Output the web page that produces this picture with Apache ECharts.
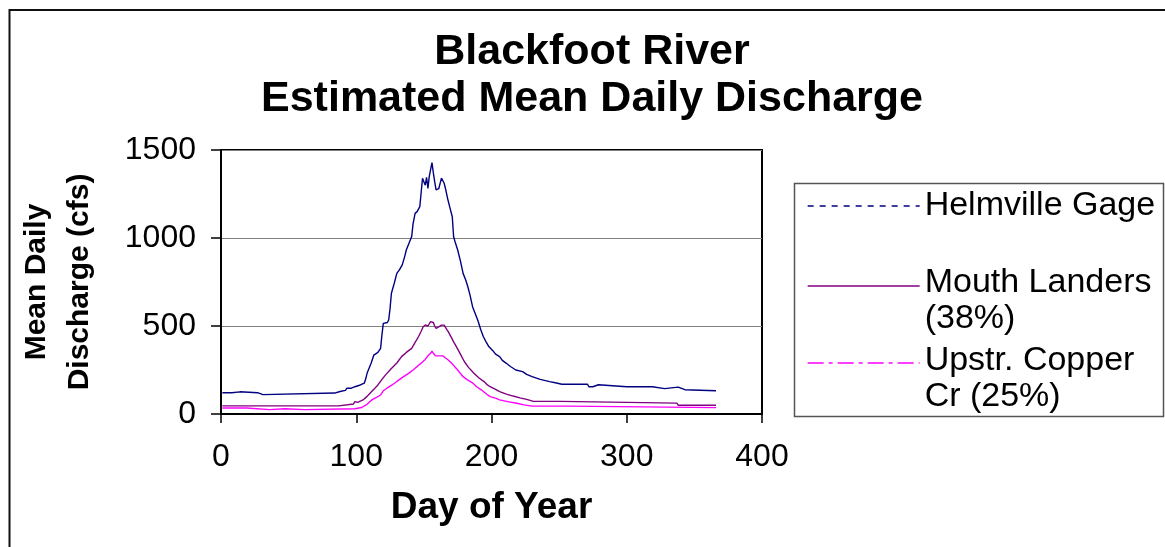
<!DOCTYPE html>
<html>
<head>
<meta charset="utf-8">
<style>
  html, body { margin: 0; padding: 0; background: #fff; }
  #chart { width: 1165px; height: 547px; }
</style>
<script src="https://cdn.jsdelivr.net/npm/echarts@6/dist/echarts.min.js"></script>
</head>
<body>
<div id="chart"></div>
<script>
// Blackfoot River – estimated mean daily discharge (cfs) by day of year.
// Each series is a list of [day, cfs] break points of the daily record.
const seriesNames = ['Helmville Gage', 'Mouth Landers (38%)', 'Upstr. Copper Cr (25%)'];
// Legend labels; the {s| } / {t| } rows are thin spacers that drop the
// two-line labels so their first line sits beside the legend line.
const legendLabels = [
  '{a|Helmville Gage}',
  '{s| }\n{a|Mouth Landers}\n{a|(38%)}',
  '{t| }\n{a|Upstr. Copper}\n{a|Cr (25%)}'
];

const helmvilleGage = [
  [1,121],[8,121],[9,126],[14,126],[15,121],[27,121],[28,110],[31,110],[32,119],[84,119],
  [85,128],[88,128],[89,134],[92,134],[93,146],[96,146],[97,155],[99,155],[100,165],[103,165],
  [104,174],[106,176],[107,200],[108,231],[110,270],[111,288],[113,335],[116,350],[118,373],[119,450],
  [120,515],[123,520],[124,534],[125,600],[126,686],[128,740],[130,799],[132,820],[134,847],[136,900],
  [137,932],[139,970],[141,1008],[142,1080],[143.5,1140],[145,1150],[147,1178],[148,1260],[149,1339],[150,1350],
  [151,1300],[152,1345],[153,1282],[154,1350],[155,1390],[156,1428],[157,1370],[158,1320],[159,1273],[161,1280],
  [162,1291],[163,1340],[164,1345],[165,1311],[166,1280],[167.5,1226],[169,1180],[171,1121],[172,1007],[173,980],
  [175,932],[177,870],[179,799],[181,760],[182.5,723],[184,680],[186,610],[188,570],[190,530],[192,480],
  [194,439],[196,410],[198,383],[201,360],[203,340],[206,326],[208,305],[211,288],[214,270],[218,250],
  [223,241],[226,225],[230,212],[236,197],[243,184],[248,176],[252,169],[271,169],[272,155],[275,155],
  [276,166],[279,166],[280,155],[300,155],[301,161],[302,155],[319,155],[320,144],[328,144],[329,153],
  [338,153],[343,138],[344,132],[366,132]
];

const mouthLanders = [
  [1,46],[87,46],[88,57],[98,57],[99,70],[101,66],[102,72],[105,80],[106,89],[108,100],
  [110,117],[113,140],[116,165],[119,197],[122,225],[126,259],[130,290],[133.5,326],[137,350],[141,373],
  [143,400],[146,439],[148,470],[149.5,496],[151,506],[153,500],[154,510],[155,525],[156,534],[157,520],
  [158,500],[159,487],[161,495],[163,505],[164,515],[165,505],[167,480],[168,468],[170,440],[172,410],
  [174,383],[177,340],[180,297],[183,265],[187,231],[191,203],[194.5,184],[197,165],[199,155],[203,140],
  [206,127],[211,113],[216,102],[221,92],[226,83],[231,72],[251,72],[252,62],[337,62],[338,50],
  [366,50]
];

const upstrCopperCr = [
  [1,34],[19,34],[20,25],[36,25],[37,30],[47,30],[48,25],[62,25],[63,30],[99,30],
  [100,37],[104,37],[105,45],[108,55],[110,70],[112,83],[115,95],[118,108],[120,132],[123,148],
  [126.5,165],[130,185],[135,212],[139,232],[142,250],[145,270],[148.5,292],[151,310],[153.5,335],[155,345],
  [156,358],[157,345],[158.6,330],[164,330],[166,318],[168,307],[171,285],[174,259],[176,240],[179,212],
  [182,195],[186.5,174],[189,155],[192.7,136],[196,115],[199,99],[203,90],[206,80],[212,70],[218.7,61],
  [224,52],[230,45],[257,45],[258,36],[366,36]
];

const xTicks = { min: 0, max: 400, step: 100 };
const yTicks = { min: 0, max: 1500, step: 500 };

const lineColors = ['#000080', '#800080', '#FF00FF'];
const legendDash = [[6, 6], 'solid', [16, 5, 4, 5]];
const legendTops = [188, 235, 311];

const font = 'Liberation Sans, Arial, Helvetica, sans-serif';
const legendFont = { fontFamily: font, fontSize: 34, color: '#000', lineHeight: 36 };
const chart = echarts.init(document.getElementById('chart'), null, { renderer: 'canvas' });

const legends = seriesNames.map((name, i) => ({
  data: [{
    name: name,
    lineStyle: { type: legendDash[i], width: 1.3, color: lineColors[i] },
    itemStyle: { opacity: 0 }
  }],
  orient: 'vertical',
  left: 807,
  top: legendTops[i],
  padding: 0,
  itemWidth: 112,
  itemHeight: 14,
  selectedMode: false,
  formatter: () => legendLabels[i],
  textStyle: Object.assign({}, legendFont, {
    rich: {
      a: Object.assign({}, legendFont),
      s: { fontFamily: font, fontSize: 2, lineHeight: 30 },
      t: { fontFamily: font, fontSize: 2, lineHeight: 32 }
    }
  })
}));

chart.setOption({
  animation: false,
  backgroundColor: '#fff',
  title: {
    text: 'Blackfoot River\nEstimated Mean Daily Discharge',
    left: 592,
    top: 29,
    textAlign: 'center',
    padding: 0,
    textStyle: { fontFamily: font, fontSize: 43, fontWeight: 'bold', color: '#000', lineHeight: 47 }
  },
  legend: legends,
  graphic: [
    { type: 'rect', shape: { x: 9.5, y: 10, width: 1200, height: 600 },
      style: { fill: 'none', stroke: '#111', lineWidth: 2 }, silent: true },
    { type: 'rect', shape: { x: 794.5, y: 183.5, width: 369, height: 233 },
      style: { fill: 'none', stroke: '#555', lineWidth: 1.5 }, silent: true }
  ],
  grid: {
    left: 221, right: 403, top: 150, bottom: 133,
    show: true, borderColor: '#000', borderWidth: 2, backgroundColor: 'transparent'
  },
  xAxis: {
    type: 'value',
    min: xTicks.min, max: xTicks.max, interval: xTicks.step,
    name: 'Day of Year',
    nameLocation: 'middle',
    nameGap: 75,
    nameTextStyle: { fontFamily: font, fontSize: 37, fontWeight: 'bold', color: '#000' },
    axisLine: { show: true, lineStyle: { color: '#000', width: 2 } },
    axisTick: { show: true, inside: false, length: 9, lineStyle: { color: '#000', width: 1.5 } },
    axisLabel: { margin: 27, fontFamily: font, fontSize: 32, color: '#000', formatter: v => String(v) },
    splitLine: { show: false }
  },
  yAxis: {
    type: 'value',
    min: yTicks.min, max: yTicks.max, interval: yTicks.step,
    name: 'Mean Daily\nDischarge (cfs)',
    nameLocation: 'middle',
    nameGap: 120,
    nameRotate: 90,
    nameTextStyle: { fontFamily: font, fontSize: 30, fontWeight: 'bold', color: '#000', lineHeight: 43 },
    axisLine: { show: true, lineStyle: { color: '#000', width: 2 } },
    axisTick: { show: true, inside: false, length: 10, lineStyle: { color: '#000', width: 1.5 } },
    axisLabel: { margin: 25, fontFamily: font, fontSize: 32, color: '#000', formatter: v => String(v) },
    splitLine: { show: true, lineStyle: { color: '#808080', width: 1.2 } }
  },
  series: [helmvilleGage, mouthLanders, upstrCopperCr].map((d, i) => ({
    name: seriesNames[i],
    type: 'line',
    data: d,
    symbol: 'none',
    z: 3 - i,
    lineStyle: { color: lineColors[i], width: 1.4, type: 'solid' },
    itemStyle: { color: lineColors[i] }
  }))
});
</script>
</body>
</html>
